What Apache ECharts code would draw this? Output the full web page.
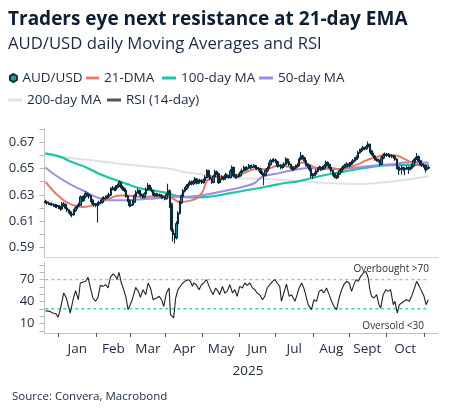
<!DOCTYPE html>
<html><head><meta charset="utf-8">
<script src="https://cdn.jsdelivr.net/npm/echarts@6/dist/echarts.min.js"></script>
<style>html,body{margin:0;padding:0;background:#fff}#c{width:455px;height:416px}</style>
</head><body><div id="c"></div>
<script>
// ---- axis categories / ticks (trading-day index, Dec 20 2024 = 0) ----
const months = ['Jan','Feb','Mar','Apr','May','Jun','Jul','Aug','Sept','Oct'];
const monthStarts = [7.5,30.5,50.5,71.5,93.5,115.5,136.5,159.5,180.5,202.5,225.5];
const monthMids = [19,40.5,61,82.5,104.5,126,148,170,191.5,214];
const priceTicks = [0.59,0.60,0.61,0.62,0.63,0.64,0.65,0.66,0.67,0.68];
const priceLabels = [0.59,0.61,0.63,0.65,0.67];
const rsiTicks = [0,10,20,30,40,50,60,70,80,90];
const rsiLabels = [10,40,70];
const overbought = 70;
const oversold = 30;

// ---- AUD/USD daily OHLC ----
const opens = [
.6250,.6245,.6238,.6232,.6228,.6225,.6220,.6212,.6218,.6205,
.6195,.6230,.6225,.6200,.6185,.6170,.6155,.6150,.6180,.6200,
.6215,.6222,.6283,.6258,.6285,.6308,.6300,.6292,.6258,.6233,
.6225,.6220,.6230,.6240,.6245,.6270,.6275,.6283,.6290,.6300,
.6345,.6350,.6340,.6358,.6370,.6395,.6360,.6345,.6333,.6290,
.6258,.6220,.6225,.6245,.6290,.6320,.6333,.6308,.6295,.6283,
.6308,.6340,.6370,.6350,.6333,.6308,.6295,.6300,.6300,.6295,
.6285,.6283,.6270,.6300,.6330,.6230,.6035,.6000,.5975,.6080,
.6160,.6240,.6290,.6330,.6345,.6365,.6380,.6395,.6385,.6400,
.6420,.6390,.6400,.6408,.6395,.6410,.6433,.6483,.6445,.6420,
.6395,.6440,.6475,.6460,.6395,.6420,.6433,.6420,.6450,.6440,
.6433,.6480,.6508,.6445,.6435,.6440,.6445,.6470,.6483,.6508,
.6495,.6505,.6520,.6508,.6515,.6520,.6508,.6500,.6495,.6470,
.6455,.6450,.6483,.6500,.6530,.6558,.6560,.6565,.6550,.6520,
.6525,.6508,.6520,.6533,.6570,.6550,.6530,.6508,.6495,.6505,
.6515,.6525,.6570,.6595,.6580,.6558,.6530,.6520,.6495,.6445,
.6450,.6458,.6480,.6495,.6508,.6495,.6505,.6520,.6545,.6530,
.6508,.6483,.6458,.6440,.6433,.6458,.6480,.6495,.6508,.6520,
.6533,.6520,.6535,.6545,.6558,.6570,.6583,.6620,.6635,.6645,
.6658,.6650,.6665,.6683,.6633,.6610,.6595,.6570,.6565,.6558,
.6533,.6580,.6600,.6608,.6605,.6600,.6595,.6592,.6590,.6570,
.6508,.6495,.6500,.6508,.6495,.6500,.6508,.6495,.6505,.6520,
.6558,.6575,.6590,.6558,.6533,.6525,.6520,.6495,.6505];
const closes = [
.6245,.6238,.6232,.6228,.6225,.6220,.6212,.6218,.6205,.6195,
.6230,.6225,.6200,.6185,.6170,.6155,.6150,.6180,.6200,.6215,
.6222,.6283,.6258,.6285,.6308,.6300,.6292,.6258,.6233,.6225,
.6220,.6230,.6240,.6245,.6270,.6275,.6283,.6290,.6300,.6345,
.6350,.6340,.6358,.6370,.6395,.6360,.6345,.6333,.6290,.6258,
.6220,.6225,.6245,.6290,.6320,.6333,.6308,.6295,.6283,.6308,
.6340,.6370,.6350,.6333,.6308,.6295,.6300,.6300,.6295,.6285,
.6283,.6270,.6300,.6330,.6230,.6035,.6000,.5975,.6080,.6160,
.6240,.6290,.6330,.6345,.6365,.6380,.6395,.6385,.6400,.6420,
.6390,.6400,.6408,.6395,.6410,.6433,.6483,.6445,.6420,.6395,
.6440,.6475,.6460,.6395,.6420,.6433,.6420,.6450,.6440,.6433,
.6480,.6508,.6445,.6435,.6440,.6445,.6470,.6483,.6508,.6495,
.6505,.6520,.6508,.6515,.6520,.6508,.6500,.6495,.6470,.6455,
.6450,.6483,.6500,.6530,.6558,.6560,.6565,.6550,.6520,.6525,
.6508,.6520,.6533,.6570,.6550,.6530,.6508,.6495,.6505,.6515,
.6525,.6570,.6595,.6580,.6558,.6530,.6520,.6495,.6445,.6450,
.6458,.6480,.6495,.6508,.6495,.6505,.6520,.6545,.6530,.6508,
.6483,.6458,.6440,.6433,.6458,.6480,.6495,.6508,.6520,.6533,
.6520,.6535,.6545,.6558,.6570,.6583,.6620,.6635,.6645,.6658,
.6650,.6665,.6683,.6633,.6610,.6595,.6570,.6565,.6558,.6533,
.6580,.6600,.6608,.6605,.6600,.6595,.6592,.6590,.6570,.6508,
.6495,.6500,.6508,.6495,.6500,.6508,.6495,.6505,.6520,.6558,
.6575,.6590,.6558,.6533,.6525,.6520,.6495,.6505,.6508];
const highs = [
.6262,.6255,.6248,.6240,.6242,.6236,.6232,.6230,.6225,.6215,
.6245,.6245,.6235,.6210,.6195,.6180,.6165,.6192,.6212,.6228,
.6240,.6295,.6292,.6298,.6330,.6320,.6310,.6300,.6268,.6250,
.6238,.6245,.6255,.6262,.6285,.6290,.6295,.6305,.6315,.6358,
.6368,.6362,.6372,.6385,.6408,.6402,.6372,.6355,.6340,.6298,
.6265,.6240,.6260,.6305,.6335,.6348,.6340,.6318,.6305,.6320,
.6355,.6390,.6378,.6358,.6340,.6318,.6315,.6312,.6310,.6305,
.6298,.6290,.6312,.6385,.6340,.6240,.6055,.6010,.6100,.6175,
.6255,.6305,.6345,.6360,.6380,.6395,.6410,.6408,.6415,.6435,
.6428,.6415,.6422,.6418,.6425,.6448,.6495,.6490,.6452,.6428,
.6452,.6490,.6485,.6468,.6435,.6448,.6442,.6465,.6460,.6452,
.6495,.6522,.6515,.6458,.6455,.6460,.6485,.6498,.6522,.6515,
.6518,.6535,.6528,.6530,.6535,.6528,.6518,.6512,.6505,.6480,
.6468,.6495,.6515,.6545,.6572,.6575,.6580,.6575,.6558,.6540,
.6532,.6535,.6548,.6585,.6578,.6558,.6538,.6515,.6518,.6528,
.6540,.6585,.6625,.6605,.6590,.6565,.6540,.6528,.6502,.6465,
.6472,.6495,.6510,.6522,.6518,.6520,.6535,.6560,.6555,.6538,
.6515,.6490,.6465,.6450,.6470,.6495,.6510,.6522,.6535,.6548,
.6540,.6550,.6560,.6572,.6585,.6598,.6635,.6650,.6660,.6672,
.6668,.6680,.6705,.6690,.6642,.6620,.6602,.6580,.6575,.6565,
.6595,.6615,.6622,.6620,.6618,.6612,.6608,.6605,.6600,.6578,
.6518,.6515,.6522,.6515,.6512,.6520,.6518,.6518,.6535,.6572,
.6590,.6618,.6598,.6565,.6545,.6538,.6528,.6518,.6520];
const lows = [
.6232,.6225,.6222,.6220,.6215,.6208,.6200,.6198,.6192,.6180,
.6185,.6210,.6190,.6170,.6158,.6140,.6130,.6142,.6172,.6190,
.6205,.6218,.6245,.6250,.6275,.6288,.6270,.6245,.6222,.6212,
.6205,.6090,.6215,.6228,.6235,.6258,.6262,.6270,.6278,.6292,
.6335,.6328,.6330,.6348,.6360,.6350,.6332,.6320,.6278,.6245,
.6205,.6210,.6215,.6238,.6282,.6310,.6295,.6280,.6270,.6275,
.6300,.6332,.6338,.6320,.6295,.6282,.6285,.6288,.6282,.6270,
.6268,.6258,.6262,.6290,.6200,.6020,.5945,.5930,.5960,.6060,
.6150,.6230,.6280,.6318,.6335,.6352,.6370,.6372,.6375,.6390,
.6378,.6380,.6392,.6382,.6385,.6400,.6425,.6432,.6408,.6382,
.6388,.6432,.6448,.6382,.6388,.6410,.6408,.6412,.6428,.6420,
.6425,.6470,.6435,.6422,.6425,.6430,.6438,.6460,.6475,.6482,
.6485,.6495,.6495,.6500,.6505,.6495,.6488,.6480,.6458,.6442,
.6372,.6440,.6472,.6492,.6520,.6545,.6548,.6538,.6508,.6510,
.6495,.6498,.6510,.6525,.6538,.6518,.6495,.6482,.6485,.6495,
.6505,.6518,.6560,.6568,.6545,.6518,.6505,.6480,.6430,.6420,
.6440,.6450,.6470,.6488,.6482,.6485,.6495,.6512,.6518,.6495,
.6470,.6445,.6425,.6418,.6425,.6450,.6470,.6488,.6500,.6512,
.6505,.6512,.6525,.6538,.6550,.6562,.6575,.6612,.6625,.6638,
.6638,.6642,.6655,.6620,.6598,.6580,.6558,.6552,.6545,.6520,
.6525,.6570,.6592,.6592,.6588,.6582,.6580,.6575,.6558,.6495,
.6450,.6482,.6455,.6480,.6448,.6490,.6460,.6485,.6495,.6510,
.6545,.6565,.6545,.6520,.6512,.6505,.6470,.6485,.6495];

// ---- moving averages as [trading-day index, value] ----
const ma21 = [[0,.640],[4.5,.6333],[8.5,.6283],[12.5,.6245],[16.5,.6222],[22.4,.6208],[28.3,.622],[34.3,.625],[40.2,.6283],[44.2,.6295],[48.2,.6295],[54.1,.6288],[60.1,.6285],[66.1,.629],[71,.6292],[76,.627],[80,.6245],[86.9,.6258],[90.8,.628],[93.8,.633],[95.8,.640],[98.8,.6433],[106.7,.644],[116.6,.6458],[124.6,.6495],[130.5,.6495],[138.5,.652],[148.4,.6512],[152.3,.6545],[156.3,.6533],[160.3,.6508],[164.3,.6495],[168.3,.6508],[174.2,.6495],[180.2,.6508],[186.1,.6533],[190.1,.6558],[196,.6583],[202,.660],[207.9,.660],[211.9,.6583],[217.8,.6545],[223.8,.6525],[228,.652]];
const ma50 = [[0,.6508],[6.5,.6445],[14.4,.6383],[22.4,.6333],[30.3,.6283],[38.3,.6258],[46.2,.6258],[54.1,.6265],[62.1,.627],[70,.628],[78.9,.6285],[86.9,.6288],[94.8,.630],[102.7,.632],[110.7,.634],[118.6,.6365],[124.6,.639],[127.5,.6425],[130.5,.6445],[136.5,.6458],[142.4,.6475],[150.4,.6495],[156.3,.6503],[164.3,.6498],[174.2,.6495],[182.1,.6503],[190.1,.6515],[198,.6525],[205.9,.6533],[213.9,.6545],[219.8,.6548],[225.8,.6545],[228,.6543]];
const ma100 = [[0,.6615],[8.5,.659],[16.5,.6545],[24.4,.6508],[32.3,.6458],[40.2,.642],[48.2,.6383],[56.1,.635],[64.1,.6333],[72,.6315],[78.9,.629],[86.9,.628],[94.8,.6283],[102.7,.6295],[110.7,.6315],[118.6,.6333],[126.5,.635],[134.5,.637],[142.4,.639],[148.4,.6398],[156.3,.642],[164.3,.6445],[172.2,.6465],[180.2,.6483],[188.1,.650],[196,.6515],[204,.6525],[211.9,.6528],[219.8,.6528],[228,.6525]];
const ma200 = [[0,.6615],[11.4,.6583],[26.3,.6565],[46.2,.6533],[62.1,.6513],[76,.6495],[80.9,.6478],[92,.6458],[107,.6432],[130,.642],[151,.6405],[168,.639],[188,.6383],[208,.6405],[228,.6442]];

// ---- RSI (14-day) as [trading-day index, value] ----
const rsi = [[0,27.5],[2.5,26.6],[4.5,24.3],[6.5,23],[7.5,18.4],[8.9,29],[10.9,51.6],[12.5,44.8],[14.8,24.3],[16.5,42.5],[18,54.8],[19.6,42.5],[20.8,65.3],[22.4,66.7],[24,67.6],[25.4,73],[26.8,58.5],[28.3,44.8],[29.9,40.3],[31.3,45.7],[32.7,62.1],[34.3,60.7],[35.9,63],[37.3,58.5],[38.7,73],[40.2,77.6],[41.8,74.4],[42.6,69.9],[43.8,79.9],[45.2,65.3],[46.6,56.2],[47.8,47.1],[49.2,28.9],[50.1,26.6],[51.7,42.5],[53.7,59.4],[55.3,53.9],[56.5,45.7],[58.1,56.2],[59.7,49.4],[61.1,65.3],[62.5,58.5],[64.1,42.5],[66.1,44.8],[67.7,47.1],[69.1,42.5],[70.4,33.4],[72,51.6],[73.6,58.5],[74.4,22.1],[76.3,17.5],[77.5,44.8],[78.9,56.2],[80.9,63],[82.9,67.6],[84.9,69.9],[86.3,67.6],[87.5,60.7],[88.3,65.3],[89.8,63],[91.4,56.2],[92.8,63],[94.2,65.3],[95.8,69.9],[96.8,71.2],[98.2,56.2],[99.8,49.4],[101.3,58.5],[102.7,53.9],[103.7,49.4],[105.3,60.7],[106.7,51.6],[108.1,53.9],[109.7,63],[111.3,51.6],[112.7,56.2],[114,47.1],[115.6,60.7],[117.2,58.5],[118.6,65.3],[120,62.1],[121.6,65.3],[123.2,58.5],[124.6,56.2],[125.9,51.6],[127.5,49.4],[129.1,42.5],[130.5,47.1],[131.9,58.5],[133.5,63],[135.1,67.6],[136.5,69.9],[137.8,65.3],[139.4,60.7],[140.4,40.3],[141.8,51.6],[143.4,63.9],[145,47.1],[146.4,49.4],[148.4,40.3],[149.7,49.4],[150.9,58.5],[152.4,65.3],[153.7,58.5],[154.3,53.9],[156.3,35.7],[158.3,28.9],[159.7,42.5],[161.3,40.3],[162.8,53.9],[164.3,56.2],[165.6,51.6],[167.2,58.5],[168.8,49.4],[170.2,40.3],[171.6,33.4],[173.2,28.9],[174.7,44.8],[176.2,56.2],[177.5,63],[179.1,67.6],[180.7,65.3],[182.1,53.9],[183.1,60.7],[184.7,69.9],[186.1,67.6],[187.5,74.4],[189,79],[190.6,81.2],[192,72.1],[193,56.2],[194,47.1],[195.4,44.8],[197,49.4],[198.4,35.7],[199.4,31.1],[200.9,49.4],[202.5,56.2],[203.9,53.9],[205.3,56.2],[206.9,35.7],[207.9,40.3],[209.3,24.3],[210.5,35.7],[211.9,38],[213.3,40.3],[214.9,42.5],[216.4,40.3],[217.8,47.1],[219.2,56.2],[220.8,67.6],[222.4,60.7],[223.8,53.9],[225.2,47.1],[226.4,35.7],[227.7,42.5]];

const candles = closes.map((c, i) => [i, opens[i], c, lows[i], highs[i]]);
const lastIdx = closes.length - 1;

const FONT = 'Open Sans';
const TXT = '#1b2a40';
const lineIcon = 'path://M0,0H14V3H0Z';
const hexIcon = 'path://M5,0L10,2.9L10,8.7L5,11.6L0,8.7L0,2.9Z';

function lg(name, left, top, icon, w) {
  return {
    data: [{ name: name, icon: icon }],
    left: left, top: top, padding: 0, itemWidth: w, itemHeight: 8,
    selectedMode: false,
    textStyle: { fontFamily: FONT, fontSize: 13.5, color: TXT, lineHeight: 16 }
  };
}

const chart = echarts.init(document.getElementById('c'), null, { renderer: 'canvas' });
chart.setOption({
  animation: false,
  backgroundColor: '#fff',
  title: [
    { text: 'Traders eye next resistance at 21-day EMA', left: 8, top: 10, padding: 0,
      textStyle: { fontFamily: FONT, fontSize: 19, fontWeight: 'bold', color: '#0c1f35' } },
    { text: 'AUD/USD daily Moving Averages and RSI', left: 8, top: 36, padding: 0,
      textStyle: { fontFamily: FONT, fontSize: 16.7, fontWeight: 'normal', color: TXT } }
  ],
  legend: [
    { data: [{ name: 'AUD/USD', icon: hexIcon, itemStyle: { color: '#1f9e96', borderColor: '#0f2c3f', borderWidth: 2 } }],
      left: 9, top: 70, padding: 0, itemWidth: 8, itemHeight: 8, selectedMode: false,
      textStyle: { fontFamily: FONT, fontSize: 13.5, color: TXT, lineHeight: 16 } },
    lg('21-DMA', 86, 70, lineIcon, 13),
    lg('100-day MA', 162, 70, lineIcon, 14),
    lg('50-day MA', 259, 70, lineIcon, 14),
    lg('200-day MA', 8, 92, lineIcon, 14),
    lg('RSI (14-day)', 107, 92, lineIcon, 14)
  ],
  grid: [
    { left: 44.5, right: 17, top: 129, height: 128 },
    { left: 44.5, right: 17, top: 262, height: 71 }
  ],
  xAxis: [
    { gridIndex: 0, type: 'value', min: -0.5, max: 233.5,
      axisLine: { show: true, onZero: false, lineStyle: { color: '#d6d6d6', width: 1.2 } },
      axisTick: { show: false }, axisLabel: { show: false }, splitLine: { show: false } },
    { gridIndex: 1, type: 'value', min: -0.5, max: 233.5,
      axisLine: { show: true, onZero: false, lineStyle: { color: '#c2c2c2', width: 1.2 } },
      axisTick: { show: true, customValues: monthStarts, length: 4, lineStyle: { color: '#555' } },
      axisLabel: { customValues: monthMids, margin: 9, fontFamily: FONT, fontSize: 13.5, color: TXT,
        formatter: function (v) { const k = monthMids.indexOf(v); return k >= 0 ? months[k] : ''; } },
      splitLine: { show: false } }
  ],
  yAxis: [
    { gridIndex: 0, type: 'value', min: 0.5828, max: 0.68,
      axisLine: { show: true, onZero: false, lineStyle: { color: '#c4c4c4' } },
      axisTick: { show: true, customValues: priceTicks, length: 5, lineStyle: { color: '#b8b8b8' } },
      axisLabel: { customValues: priceLabels, margin: 10, fontFamily: FONT, fontSize: 13, color: TXT,
        formatter: function (v) { return v.toFixed(2); } },
      splitLine: { show: false } },
    { gridIndex: 1, type: 'value', min: -3, max: 94,
      axisLine: { show: true, onZero: false, lineStyle: { color: '#c4c4c4' } },
      axisTick: { show: true, customValues: rsiTicks, length: 5, lineStyle: { color: '#b8b8b8' } },
      axisLabel: { customValues: rsiLabels, margin: 10, fontFamily: FONT, fontSize: 13, color: TXT },
      splitLine: { show: false } }
  ],
  series: [
    { name: '200-day MA', type: 'line', xAxisIndex: 0, yAxisIndex: 0, data: ma200, smooth: 0.4,
      showSymbol: false, color: '#e2e2e2', lineStyle: { color: '#e2e2e2', width: 2 }, z: 2 },
    { name: '100-day MA', type: 'line', xAxisIndex: 0, yAxisIndex: 0, data: ma100, smooth: 0.4,
      showSymbol: false, color: '#1cc4a2', lineStyle: { color: '#1cc4a2', width: 2.2 }, z: 3 },
    { name: '50-day MA', type: 'line', xAxisIndex: 0, yAxisIndex: 0, data: ma50, smooth: 0.4,
      showSymbol: false, color: '#9b8ee6', lineStyle: { color: '#9b8ee6', width: 2 }, z: 3 },
    { name: '21-DMA', type: 'line', xAxisIndex: 0, yAxisIndex: 0, data: ma21, smooth: 0.4,
      showSymbol: false, color: '#ea7668', lineStyle: { color: '#ea7668', width: 2 }, z: 3 },
    { name: 'AUD/USD', type: 'candlestick', xAxisIndex: 0, yAxisIndex: 0, data: candles,
      barWidth: 1.9, z: 5,
      itemStyle: { color: '#1f8f8c', color0: '#0e2a3d', borderColor: '#0e2a3d', borderColor0: '#0e2a3d', borderWidth: 1.1 } },
    { name: 'RSI (14-day)', type: 'line', xAxisIndex: 1, yAxisIndex: 1, data: rsi,
      showSymbol: false, color: '#555', lineStyle: { color: '#1f2326', width: 1.1 }, z: 5 },
    { name: 'Overbought', type: 'line', xAxisIndex: 1, yAxisIndex: 1,
      data: [[0, overbought], [lastIdx, overbought]], showSymbol: false, silent: true,
      lineStyle: { color: '#f29a9a', width: 1.3, type: [3, 3] }, z: 3 },
    { name: 'Oversold', type: 'line', xAxisIndex: 1, yAxisIndex: 1,
      data: [[0, oversold], [lastIdx, oversold]], showSymbol: false, silent: true,
      lineStyle: { color: '#3fd3b3', width: 1.5, type: [3, 3] }, z: 3 }
  ],
  graphic: [
    { type: 'text', x: 429, y: 269.5, style: { text: 'Overbought >70', align: 'right', verticalAlign: 'middle',
      font: '10px "Open Sans"', fill: '#2b2f36' } },
    { type: 'text', x: 424, y: 326, style: { text: 'Oversold <30', align: 'right', verticalAlign: 'middle',
      font: '10px "Open Sans"', fill: '#2b2f36' } },
    { type: 'text', x: 248, y: 371, style: { text: '2025', align: 'center', verticalAlign: 'middle',
      font: '13.5px "Open Sans"', fill: TXT } },
    { type: 'text', x: 12, y: 396.5, style: { text: 'Source: Convera, Macrobond', align: 'left', verticalAlign: 'middle',
      font: '11.5px "Open Sans"', fill: TXT } }
  ]
});
</script>
</body></html>
